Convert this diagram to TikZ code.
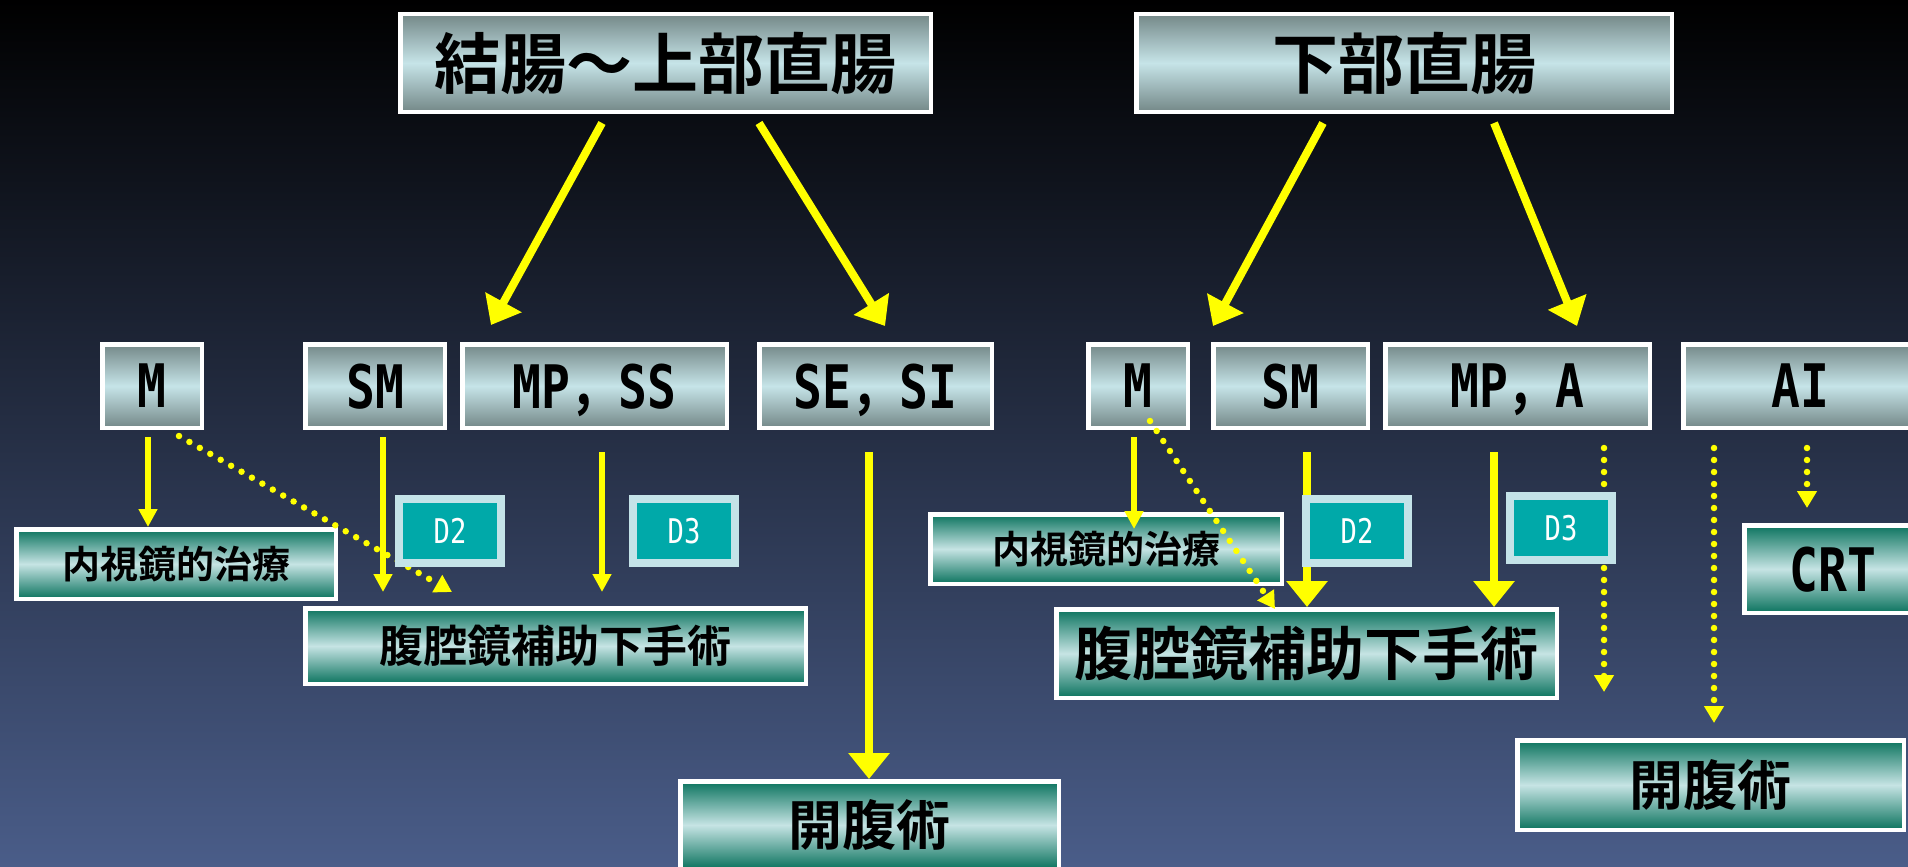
\documentclass[tikz,border=0pt]{standalone}
\usepackage{fontspec}
\usepackage{tikz}
\usetikzlibrary{calc,arrows.meta}
\newfontfamily\jpfont{Noto Sans CJK JP}[BoldFont={Noto Sans CJK JP Bold}]
\newfontfamily\jpnarrow{Noto Sans CJK JP}[BoldFont={Noto Sans CJK JP Bold},FakeStretch=0.8]
\newfontfamily\latfont{DejaVu Sans Mono}[FakeStretch=0.8]
\definecolor{arrowyel}{HTML}{FFFF00}
\definecolor{bgbot}{HTML}{4A5D89}
\definecolor{plate}{HTML}{748888}
\definecolor{plateLight}{HTML}{C6E4E8}
\definecolor{jade}{HTML}{0B735E}
\definecolor{jadeLight}{HTML}{C6E4E4}
\definecolor{depthFill}{HTML}{00A9A9}
\definecolor{depthRim}{HTML}{C4E3E8}
\newcommand{\fwcomma}{{\jpnarrow ，}}
\tikzset{
  plateBox/.style={draw=white, line width=4.5pt, top color=plate, bottom color=plate, middle color=plateLight, inner sep=0pt, text=black},
  jadeBox/.style={draw=white, line width=4.5pt, top color=jade, bottom color=jade, middle color=jadeLight, inner sep=0pt, text=black},
  depthBox/.style={draw=depthRim, line width=8pt, fill=depthFill, text=white, inner sep=0pt, minimum width=102pt, minimum height=64pt, font=\latfont\fontsize{34}{36}\selectfont},
  titleFont/.style={font=\jpfont\bfseries\fontsize{66}{70}\selectfont},
  stageFont/.style={font=\latfont\bfseries\fontsize{60}{64}\selectfont, text depth=0pt},
  stage/.style={plateBox, stageFont, minimum height=83.5pt},
  thickArrow/.style={draw=arrowyel, line width=8pt, -{Triangle[width=40pt,length=26pt]}},
  thinArrow/.style={draw=arrowyel, line width=6pt, -{Triangle[width=18pt,length=18pt]}},
  dotArrow/.style={draw=arrowyel, line width=6.5pt, line cap=round, dash pattern=on 0pt off 12pt, -{Triangle[width=19pt,length=17pt]}}
}

\begin{document}
\begin{tikzpicture}[x=1pt,y=-1pt]
\useasboundingbox (0,0) rectangle (1908,867);
\clip (0,0) rectangle (1908,867);
\shade[top color=black, bottom color=bgbot] (0,0) rectangle (1908,867);

% sites
\node[plateBox, titleFont, minimum width=530.5pt, minimum height=97.5pt] (T1) at (665.5,63) {結腸～上部直腸};
\node[plateBox, titleFont, minimum width=535.5pt, minimum height=97.5pt] (T2) at (1404,63) {下部直腸};

% depth of invasion
\node[stage, minimum width=99.5pt] (M1) at (152,386) {M};
\node[stage, minimum width=139.5pt] (SM1) at (375,386) {SM};
\node[stage, minimum width=264.5pt] (MPSS) at (594.5,386) {MP\fwcomma SS};
\node[stage, minimum width=232.5pt] (SESI) at (875.5,386) {SE\fwcomma SI};
\node[stage, minimum width=99.5pt] (M2) at (1138,386) {M};
\node[stage, minimum width=154.5pt] (SM2) at (1290.5,386) {SM};
\node[stage, minimum width=264.5pt] (MPA) at (1517.5,386) {MP\fwcomma A};
\node[stage, minimum width=233.5pt] (AI) at (1800,386) {AI};

% treatments
\node[jadeBox, font=\jpfont\bfseries\fontsize{38}{40}\selectfont, minimum width=319.5pt, minimum height=69.5pt] (E1) at (176,564) {内視鏡的治療};
\node[jadeBox, font=\jpfont\bfseries\fontsize{44}{46}\selectfont, minimum width=500.5pt, minimum height=75.5pt] (L1) at (555.5,646) {腹腔鏡補助下手術};
\node[jadeBox, font=\jpfont\bfseries\fontsize{54}{56}\selectfont, minimum width=378.5pt, minimum height=87.5pt] (O1) at (869.5,825) {開腹術};
\node[jadeBox, font=\jpfont\bfseries\fontsize{38}{40}\selectfont, minimum width=351.5pt, minimum height=69.5pt] (E2) at (1106,549) {内視鏡的治療};
\node[jadeBox, font=\jpfont\bfseries\fontsize{58}{60}\selectfont, minimum width=500.5pt, minimum height=88.5pt] (L2) at (1306.5,653.5) {腹腔鏡補助下手術};
\node[jadeBox, font=\jpfont\bfseries\fontsize{54}{56}\selectfont, minimum width=386.5pt, minimum height=89.5pt] (O2) at (1710.5,785) {開腹術};
\node[jadeBox, stageFont, minimum width=177.5pt, minimum height=87.5pt] (CRT) at (1833,569) {CRT};

% site -> depth
\draw[thickArrow] ($(T1.south)+(-63.5,9)$) -- ($(MPSS.north)+(-103.5,-17)$);
\draw[thickArrow] ($(T1.south)+(93.5,9)$) -- ($(SESI.north)+(9.5,-16)$);
\draw[thickArrow] ($(T2.south)+(-81,9)$) -- ($(SM2.north)+(-77.5,-16)$);
\draw[thickArrow] ($(T2.south)+(90,9)$) -- ($(MPA.north)+(59.5,-16)$);

% depth -> treatment
\coordinate (m1s) at ($(M1.south)+(-4,7)$);
\coordinate (sm1s) at ($(SM1.south)+(8,7)$);
\coordinate (mpss) at ($(MPSS.south)+(7.5,22)$);
\coordinate (sesi) at ($(SESI.south)+(-6.5,22)$);
\coordinate (m2s) at ($(M2.south)+(-4,7)$);
\coordinate (sm2s) at ($(SM2.south)+(16.5,22)$);
\coordinate (mpa) at ($(MPA.south)+(-23.5,22)$);
\coordinate (mpaDot) at ($(MPA.south)+(86.5,18)$);
\coordinate (mpaEnd) at ($(mpaDot)+(0,244)$);
\coordinate (aiL) at ($(AI.south)+(-86,18)$);
\coordinate (aiS) at ($(AI.south)+(7,18)$);

\draw[thinArrow] (m1s) -- (m1s |- E1.north);
\draw[thinArrow] (sm1s) -- ([yshift=14pt]sm1s |- L1.north);
\draw[thinArrow] (mpss) -- ([yshift=14pt]mpss |- L1.north);
\draw[thickArrow] (sesi) -- (sesi |- O1.north);
\draw[thinArrow] (m2s) -- ([yshift=-17pt]m2s |- E2.north);
\draw[thickArrow] (sm2s) -- (sm2s |- L2.north);
\draw[thickArrow] (mpa) -- (mpa |- L2.north);

\draw[dotArrow] ($(M1.south)+(27,6)$) -- ($(L1.north)+(-103.5,-14)$);
\draw[dotArrow] ($(M2.south)+(12,-9)$) -- ($(L2.north)+(-31.5,2)$);
\draw[dotArrow] (mpaDot) -- (mpaEnd);
\draw[dotArrow] (aiL) -- ([yshift=15pt]aiL |- O2.north);
\draw[dotArrow] (aiS) -- ([yshift=15pt]aiS |- CRT.north);

% lymph node dissection
\node[depthBox] (D2a) at (450,531) {D2};
\node[depthBox] (D3a) at (684,531) {D3};
\node[depthBox] (D2b) at (1357,531) {D2};
\node[depthBox] (D3b) at (1561,528) {D3};
\end{tikzpicture}
\end{document}
